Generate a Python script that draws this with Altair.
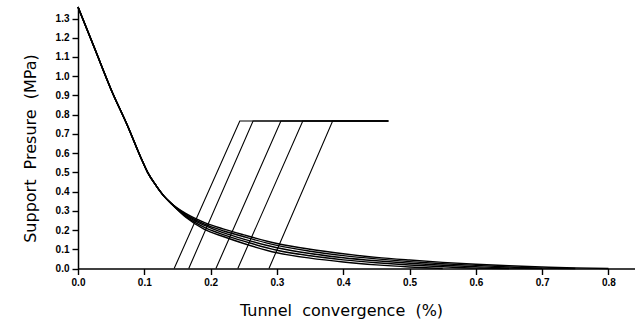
import altair as alt
import pandas as pd

# Ground reaction curves (5 nearly identical curves)
common_x = [0.0, 0.025, 0.05, 0.075, 0.095, 0.105, 0.118, 0.13, 0.14]
common_y = [1.36, 1.145, 0.93, 0.74, 0.575, 0.50, 0.43, 0.375, 0.34]

tail_x = [0.163, 0.19, 0.22, 0.25, 0.30, 0.35, 0.40, 0.45, 0.50, 0.55, 0.60, 0.65, 0.70, 0.75, 0.80]
curve_tails = [
    [0.285, 0.240, 0.205, 0.175, 0.130, 0.100, 0.077, 0.058, 0.044, 0.032, 0.022, 0.014, 0.008, 0.003, 0.0],
    [0.280, 0.232, 0.195, 0.165, 0.120, 0.090, 0.067, 0.050, 0.036, 0.025, 0.016, 0.008, 0.002, 0.0],
    [0.275, 0.225, 0.185, 0.153, 0.108, 0.078, 0.056, 0.040, 0.027, 0.017, 0.009, 0.002, 0.0],
    [0.270, 0.215, 0.175, 0.142, 0.095, 0.066, 0.045, 0.030, 0.018, 0.009, 0.002, 0.0],
    [0.265, 0.205, 0.165, 0.130, 0.082, 0.054, 0.034, 0.019, 0.008, 0.0],
]

# Support lines: start on axis, rise to yield, then flat
support_start = [0.145, 0.167, 0.208, 0.241, 0.288]
support_top = [0.244, 0.264, 0.306, 0.339, 0.384]
support_level = 0.767
support_end = 0.468

x_ticks = [0.0, 0.1, 0.2, 0.3, 0.4, 0.5, 0.6, 0.7, 0.8]
y_ticks = [0.0, 0.1, 0.2, 0.3, 0.4, 0.5, 0.6, 0.7, 0.8, 0.9, 1.0, 1.1, 1.2, 1.3]

rows = []
for i, tail in enumerate(curve_tails):
    xs = common_x + tail_x[:len(tail)]
    ys = common_y + tail
    for k, (x, y) in enumerate(zip(xs, ys)):
        rows.append({"series": f"c{i}", "idx": k, "x": x, "y": y, "kind": "curve"})
for i, (s, t) in enumerate(zip(support_start, support_top)):
    for k, (x, y) in enumerate([(s, 0.0), (t, support_level), (support_end, support_level)]):
        rows.append({"series": f"s{i}", "idx": k, "x": x, "y": y, "kind": "support"})
df = pd.DataFrame(rows)

xscale = alt.Scale(domain=[0, 0.84], nice=False, zero=False)
yscale = alt.Scale(domain=[0, 1.36], nice=False)

common_axis = dict(
    format=".1f", grid=False, ticks=True, tickSize=6, tickColor="black",
    domainColor="black", domainWidth=1.5, tickWidth=1.4,
    labelFont="Liberation Sans", labelFontSize=10, labelFontWeight="bold",
    labelColor="black", labelOverlap=False, labelFlush=False,
    titleFont="DejaVu Sans", titleFontSize=16, titleFontWeight="normal", titleColor="black",
)
xaxis = alt.Axis(
    values=x_ticks, title="Tunnel\u00a0 convergence\u00a0 (%)", labelPadding=3,
    titleX=263, titleY=34, **common_axis,
)
yaxis = alt.Axis(
    values=y_ticks, title="Support\u00a0 Presure\u00a0 (MPa)", labelPadding=3,
    titleAngle=270, titleX=-48, titleY=141, titleAlign="center", titleBaseline="middle",
    **common_axis,
)

curves = alt.Chart(df[df.kind == "curve"]).mark_line(
    color="black", strokeWidth=1.4, interpolate="monotone"
).encode(
    x=alt.X("x:Q", scale=xscale, axis=xaxis),
    y=alt.Y("y:Q", scale=yscale, axis=yaxis),
    detail="series:N",
    order="idx:Q",
)
supports = alt.Chart(df[df.kind == "support"]).mark_line(color="black", strokeWidth=1.1).encode(
    x=alt.X("x:Q", scale=xscale, axis=xaxis),
    y=alt.Y("y:Q", scale=yscale, axis=yaxis),
    detail="series:N",
    order="idx:Q",
)

chart = alt.layer(curves, supports).properties(
    width=557, height=261.5,
    autosize=alt.AutoSizeParams(type="none"),
    padding={"left": 78, "top": 7, "right": 0, "bottom": 63.5},
    background="white",
).configure_view(stroke=None)

chart.save("out.html", embed_options={"renderer": "svg", "actions": False})
